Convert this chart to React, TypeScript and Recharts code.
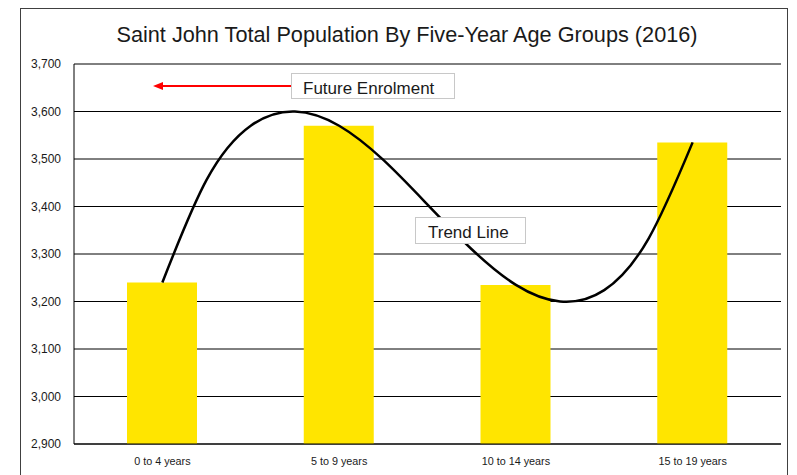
import React from 'react';
import { ComposedChart, Bar, Line, XAxis, YAxis, CartesianGrid } from 'recharts';

// categories and bar values
const AGE_GROUPS = ['0 to 4 years', '5 to 9 years', '10 to 14 years', '15 to 19 years'];
const POPULATION = [3240, 3570, 3235, 3535];

// trend line every quarter of a category step (0 = first group)
const TREND_POS = [0, 0.25, 0.5, 0.75, 1, 1.25, 1.5, 1.75, 2, 2.25, 2.5, 2.75, 3];
const TREND_VALUES = [3240, 3456, 3570, 3600, 3570, 3498, 3404, 3310, 3235, 3200, 3224, 3332, 3535];

const Y_TICKS = [2900, 3000, 3100, 3200, 3300, 3400, 3500, 3600, 3700];

const TITLE = 'Saint John Total Population By Five-Year Age Groups (2016)';
const FONT = '"Liberation Sans", Arial, sans-serif';

const barData = AGE_GROUPS.map((group, i) => ({ group, population: POPULATION[i] }));
const trendData = TREND_POS.map((t, i) => ({ t, value: TREND_VALUES[i] }));

const App: React.FC = () => {
  return (
    <div style={{ position: 'absolute', left: 0, top: 0, width: 797, height: 475, overflow: 'hidden', background: '#fff', fontFamily: FONT }}>
      <ComposedChart width={797} height={475} data={barData} margin={{ top: 64, right: 16, bottom: 0, left: 20 }}>
        <CartesianGrid vertical={false} stroke="#000" strokeWidth={1} />
        <XAxis
          dataKey="group"
          axisLine={{ stroke: '#000' }}
          tickLine={false}
          tickSize={6}
          tickMargin={7}
          height={31}
          tick={{ fill: '#1a1a1a', fontSize: 10.8, fontFamily: FONT }}
          interval={0}
        />
        <XAxis xAxisId="trend" dataKey="t" type="number" domain={[-0.5, 3.5]} hide allowDataOverflow />
        <YAxis
          domain={[2900, 3700]}
          ticks={Y_TICKS}
          width={54}
          axisLine={{ stroke: '#000' }}
          tickLine={false}
          tickSize={6}
          tickMargin={7}
          tick={{ fill: '#1a1a1a', fontSize: 12, fontFamily: FONT }}
          tickFormatter={(v: number) => v.toLocaleString('en-US')}
          allowDataOverflow
        />
        <YAxis yAxisId="right" orientation="right" domain={[2900, 3700]} width={0} tick={false} tickLine={false} axisLine={{ stroke: '#000' }} />
        <Bar dataKey="population" fill="#FFE500" barSize={70} isAnimationActive={false} />
        <Line
          data={trendData}
          xAxisId="trend"
          dataKey="value"
          type="natural"
          stroke="#000"
          strokeWidth={2.5}
          dot={false}
          activeDot={false}
          isAnimationActive={false}
        />
      </ComposedChart>
      <svg width={797} height={475} style={{ position: 'absolute', left: 0, top: 0, pointerEvents: 'none' }}>
        <rect x={20.5} y={8.5} width={767} height={480} fill="none" stroke="#404040" strokeWidth={1} />
        <text x={407} y={42} textAnchor="middle" fontSize={21.7} fill="#1a1a1a" fontFamily={FONT}>
          {TITLE}
        </text>
        <line x1={291} y1={86} x2={162} y2={86} stroke="#ff0000" strokeWidth={2} />
        <polygon points="153,86 163,82 163,90" fill="#ff0000" />
        <rect x={291.5} y={73.5} width={163} height={25} fill="#fff" stroke="#c8c8c8" strokeWidth={1} />
        <text x={303} y={94} fontSize={17} fill="#1a1a1a" fontFamily={FONT}>
          Future Enrolment
        </text>
        <rect x={415.5} y={217.5} width={110} height={26} fill="#fff" stroke="#c8c8c8" strokeWidth={1} />
        <text x={428} y={238} fontSize={17} fill="#1a1a1a" fontFamily={FONT}>
          Trend Line
        </text>
      </svg>
    </div>
  );
};

export default App;
